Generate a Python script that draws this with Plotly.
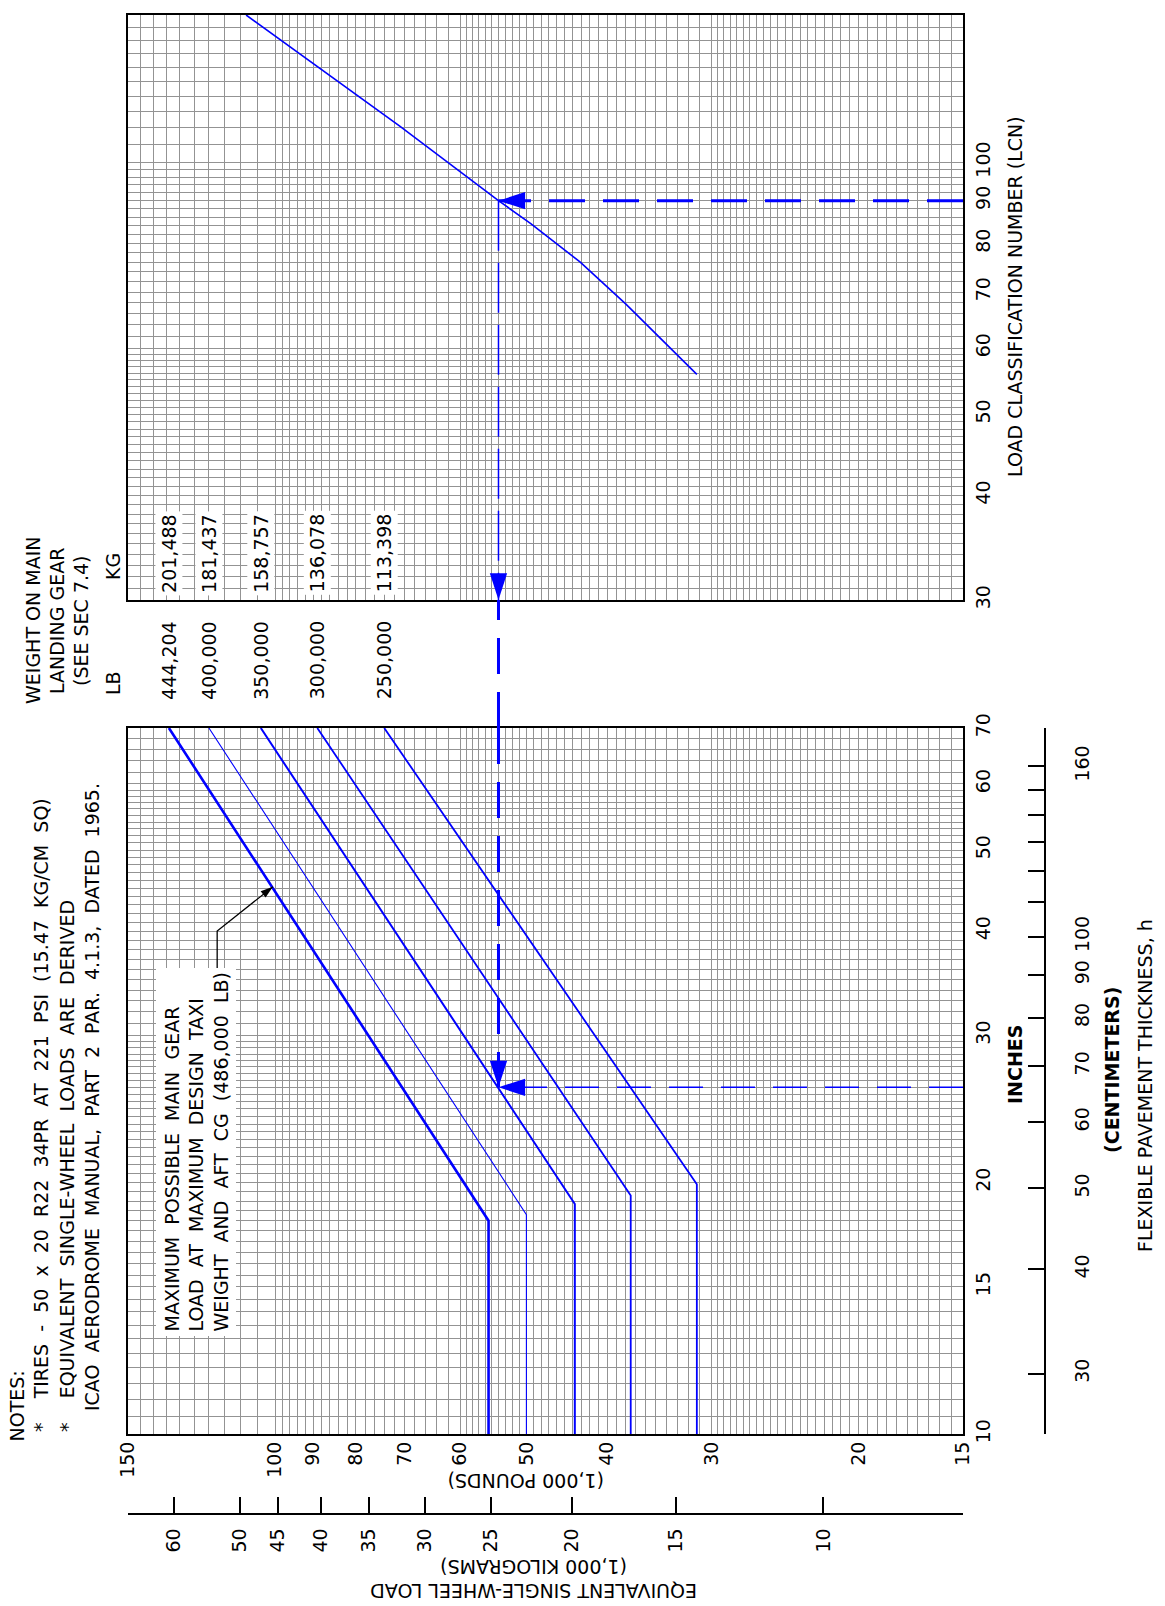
import numpy as np
import plotly.graph_objects as go

W, H = 1165, 1606

# ---------------- data ----------------
WEIGHT_LB = ["444,204", "400,000", "350,000", "300,000", "250,000"]
WEIGHT_KG = ["201,488", "181,437", "158,757", "136,078", "113,398"]
ESWL_LOW = [55.5, 50.0, 43.75, 37.5, 31.25]      # 1,000 lb, constant part
BREAK_T = [18.0, 18.3, 18.85, 19.3, 19.9]        # inches, end of constant part
ESWL_TOP = [134.0, 120.0, 104.0, 89.0, 74.0]     # 1,000 lb at 70 in
T_MIN, T_MAX = 10, 70
CURVE_W = [2.6, 1.1, 2.0, 1.8, 1.8]

LCN_ESWL = [108.3, 70.9, 54.0, 49.4, 43.1, 38.0, 31.25]
LCN_VAL = [150, 110.5, 90, 84.5, 76.0, 67.7, 55.8]

EX_ESWL = 54.0    # example read-off
EX_T = 26.0
EX_LCN = 90

LEADER_ESWL = [117.3, 117.3, 100.6]
LEADER_T = [36.1, 40.0, 45.2]

ESWL_LABELS = [15, 20, 30, 40, 50, 60, 70, 80, 90, 100, 150]
KG_TICKS = [10, 15, 20, 25, 30, 35, 40, 45, 50, 60]
T_LABELS = [10, 15, 20, 30, 40, 50, 60, 70]
CM_TICKS = [30, 40, 50, 60, 70, 80, 90, 100, 110, 120, 130, 140, 150, 160]
CM_TEXT = ["30", "40", "50", "60", "70", "80", "90", "100", "", "", "", "", "", "160"]
LCN_LABELS = [30, 40, 50, 60, 70, 80, 90, 100, 150]

ESWL_RANGE = (150, 15)
LCN_RANGE = (30, 150)
LB_PER_KG = 2.20462
CM_PER_IN = 2.54

# ---------------- layout geometry (pixels) ----------------
PL, PR = 128, 963
LOW_TOP, LOW_BOT = 728, 1434
UP_TOP, UP_BOT = 15, 600
KG_LINE_Y = 1514
CM_LINE_X = 1045

def fx(p):
    return p / W

def fy(p):
    return 1 - p / H

BLUE = "#0000ff"
GRID = "#939393"
FONT = "DejaVu Sans"
FS = 19


def grid(segments):
    vals = []
    for a, b, s in segments:
        v = a
        while v < b - 1e-9:
            vals.append(round(v, 4))
            v += s
    vals.append(segments[-1][1])
    return sorted(set(vals))


ESWL_GRID = grid([(15, 30, 0.5), (30, 60, 1), (60, 100, 2), (100, 150, 5)])
T_GRID = grid([(10, 30, 0.5), (30, 60, 1), (60, 70, 2)])
LCN_GRID = grid([(30, 60, 1), (60, 100, 2), (100, 150, 5)])


def fmt(v):
    return str(int(v)) if float(v).is_integer() else str(v)


def texts(gridvals, labels, show=True):
    ls = set(labels)
    return [fmt(v) if (show and v in ls) else "" for v in gridvals]


fig = go.Figure()

# lower panel: ESWL curves
for i in range(len(WEIGHT_LB)):
    fig.add_trace(go.Scatter(
        x=[ESWL_LOW[i], ESWL_LOW[i], ESWL_TOP[i]],
        y=[T_MIN, BREAK_T[i], T_MAX],
        mode="lines", line=dict(color=BLUE, width=CURVE_W[i]),
        xaxis="x", yaxis="y", hoverinfo="skip", showlegend=False))

# upper panel: LCN curve
fig.add_trace(go.Scatter(x=LCN_ESWL, y=LCN_VAL, mode="lines",
                         line=dict(color=BLUE, width=1.6),
                         xaxis="x2", yaxis="y2", hoverinfo="skip", showlegend=False))

# example dashed read-off lines (horizontal ones start at the right border)
fig.add_trace(go.Scatter(x=[ESWL_RANGE[1], EX_ESWL], y=[EX_LCN, EX_LCN], mode="lines",
                         line=dict(color=BLUE, width=3, dash="36px,18px"),
                         xaxis="x2", yaxis="y2", hoverinfo="skip", showlegend=False))
fig.add_trace(go.Scatter(x=[EX_ESWL, EX_ESWL], y=[EX_LCN, LCN_RANGE[0]], mode="lines",
                         line=dict(color=BLUE, width=1.5, dash="50px,12px"),
                         xaxis="x2", yaxis="y2", hoverinfo="skip", showlegend=False))
fig.add_trace(go.Scatter(x=[EX_ESWL, EX_ESWL], y=[T_MAX, EX_T], mode="lines",
                         line=dict(color=BLUE, width=3, dash="36px,18px"),
                         xaxis="x", yaxis="y", hoverinfo="skip", showlegend=False))
fig.add_trace(go.Scatter(x=[ESWL_RANGE[1], EX_ESWL], y=[EX_T, EX_T], mode="lines",
                         line=dict(color=BLUE, width=1.5, dash="34px,18px"),
                         xaxis="x", yaxis="y", hoverinfo="skip", showlegend=False))

# arrow heads
fig.add_trace(go.Scatter(x=[EX_ESWL, EX_ESWL], y=[EX_LCN, LCN_RANGE[0]], mode="markers",
                         marker=dict(symbol="arrow", size=28, angle=[-90, 180], color=BLUE,
                                     line=dict(width=0)),
                         cliponaxis=False, xaxis="x2", yaxis="y2",
                         hoverinfo="skip", showlegend=False))
fig.add_trace(go.Scatter(x=[EX_ESWL, EX_ESWL], y=[EX_T, EX_T], mode="markers",
                         marker=dict(symbol="arrow", size=28, angle=[180, -90], color=BLUE,
                                     line=dict(width=0)),
                         cliponaxis=False, xaxis="x", yaxis="y",
                         hoverinfo="skip", showlegend=False))

# leader line for the note box
fig.add_trace(go.Scatter(x=LEADER_ESWL, y=LEADER_T, mode="lines",
                         line=dict(color="black", width=1.3),
                         xaxis="x", yaxis="y", hoverinfo="skip", showlegend=False))
fig.add_trace(go.Scatter(x=[LEADER_ESWL[-1]], y=[LEADER_T[-1]], mode="markers",
                         marker=dict(symbol="arrow", size=13, angle=52, color="black",
                                     line=dict(width=0)),
                         xaxis="x", yaxis="y", hoverinfo="skip", showlegend=False))

# invisible traces to carry the secondary scales
fig.add_trace(go.Scatter(x=[KG_TICKS[0]], y=[T_MIN], mode="markers", marker=dict(opacity=0),
                         xaxis="x3", yaxis="y", hoverinfo="skip", showlegend=False))
fig.add_trace(go.Scatter(x=[ESWL_RANGE[1]], y=[CM_TICKS[0]], mode="markers", marker=dict(opacity=0),
                         xaxis="x", yaxis="y3", hoverinfo="skip", showlegend=False))

tickfont = dict(family=FONT, size=FS, color="black")
common = dict(type="log", showgrid=True, gridcolor=GRID, gridwidth=1.2, zeroline=False,
              showline=True, linecolor="black", linewidth=2, mirror=True,
              tickmode="array", ticks="", tickangle=-90, tickfont=tickfont,
              automargin=False, fixedrange=True)

xd = [fx(PL), fx(PR)]
lrange = [np.log10(ESWL_RANGE[0]), np.log10(ESWL_RANGE[1])]

fig.update_layout(
    width=W, height=H, margin=dict(l=0, r=0, t=0, b=0),
    paper_bgcolor="white", plot_bgcolor="white",
    font=dict(family=FONT, size=FS, color="black"),
    showlegend=False,
    xaxis=dict(**common, domain=xd, range=lrange, anchor="y", side="bottom",
               tickvals=ESWL_GRID, ticktext=texts(ESWL_GRID, ESWL_LABELS),
               ticklabelstandoff=-2),
    yaxis=dict(**common, domain=[fy(LOW_BOT), fy(LOW_TOP)],
               range=[np.log10(T_MIN), np.log10(T_MAX)], anchor="x", side="right",
               tickvals=T_GRID, ticktext=texts(T_GRID, T_LABELS), ticklabelstandoff=2),
    xaxis2=dict(**common, domain=xd, range=lrange, anchor="y2", side="bottom",
                tickvals=ESWL_GRID, ticktext=texts(ESWL_GRID, [], False),
                showticklabels=False),
    yaxis2=dict(**common, domain=[fy(UP_BOT), fy(UP_TOP)],
                range=[np.log10(LCN_RANGE[0]), np.log10(LCN_RANGE[1])], anchor="x2",
                side="right", tickvals=LCN_GRID, ticktext=texts(LCN_GRID, LCN_LABELS),
                ticklabelstandoff=2),
    xaxis3=dict(type="log", overlaying="x", anchor="free", position=fy(KG_LINE_Y),
                side="bottom",
                range=[np.log10(ESWL_RANGE[0] / LB_PER_KG), np.log10(ESWL_RANGE[1] / LB_PER_KG)],
                tickmode="array", tickvals=KG_TICKS, ticktext=[fmt(v) for v in KG_TICKS],
                ticks="inside", ticklen=16, tickwidth=1.5, tickcolor="black",
                tickangle=-90, tickfont=tickfont, ticklabelstandoff=6,
                showline=True, linecolor="black", linewidth=1.5, showgrid=False,
                zeroline=False, automargin=False, fixedrange=True),
    yaxis3=dict(type="log", overlaying="y", anchor="free", position=fx(CM_LINE_X),
                side="right",
                range=[np.log10(T_MIN * CM_PER_IN), np.log10(T_MAX * CM_PER_IN)],
                tickmode="array", tickvals=CM_TICKS, ticktext=CM_TEXT,
                ticks="inside", ticklen=16, tickwidth=1.5, tickcolor="black",
                tickangle=-90, tickfont=tickfont, ticklabelstandoff=20,
                showline=True, linecolor="black", linewidth=1.5, showgrid=False,
                zeroline=False, automargin=False, fixedrange=True),
)

# dashed link between the two panels
fig.add_shape(type="line", xref="x", yref="paper", x0=EX_ESWL, x1=EX_ESWL,
              y0=fy(LOW_TOP), y1=fy(UP_BOT),
              line=dict(color=BLUE, width=3, dash="36px,18px"))

S2 = " \u00a0"  # wide word gap


def wide(s):
    return s.replace(" ", S2)


ann = []


def txt(text, x, y, angle=-90, xa="center", ya="middle", size=FS, bold=False, **kw):
    t = "<b>" + text + "</b>" if bold else text
    d = dict(text=t, x=fx(x), y=fy(y), xref="paper", yref="paper", showarrow=False,
             textangle=angle, xanchor=xa, yanchor=ya,
             font=dict(family=FONT, size=size, color="black"))
    d.update(kw)
    ann.append(d)


# notes
txt("NOTES:", 16, 1444, ya="bottom")
txt(wide("*  TIRES - 50 x 20 R22 34PR AT 221 PSI (15.47 KG/CM SQ)"), 41, 1434, ya="bottom")
txt(wide("*  EQUIVALENT SINGLE-WHEEL LOADS ARE DERIVED"), 67, 1434, ya="bottom")
txt(wide("ICAO AERODROME MANUAL, PART 2 PAR. 4.1.3, DATED 1965."), 92, 1413, ya="bottom")

# table header
txt("WEIGHT ON MAIN", 33, 621)
txt("LANDING GEAR", 57, 621)
txt("(SEE SEC 7.4)", 81, 621)
txt("LB", 113, 683)
txt("KG", 113, 567)

# table values aligned with the curve ends
for i in range(len(WEIGHT_LB)):
    ann.append(dict(text=WEIGHT_LB[i], x=np.log10(ESWL_TOP[i]), y=fy(660), xref="x", yref="paper",
                    showarrow=False, textangle=-90, xanchor="center", yanchor="middle",
                    font=dict(family=FONT, size=FS, color="black")))
    ann.append(dict(text=WEIGHT_KG[i], x=np.log10(ESWL_TOP[i]), y=fy(553), xref="x", yref="paper",
                    showarrow=False, textangle=-90, xanchor="center", yanchor="middle",
                    bgcolor="white", borderpad=2,
                    font=dict(family=FONT, size=FS, color="black")))

# note box
txt("<br>".join([wide("MAXIMUM POSSIBLE MAIN GEAR"), wide("LOAD AT MAXIMUM DESIGN TAXI"),
                 wide("WEIGHT AND AFT CG (486,000 LB)")]),
    196, 1337, ya="bottom", align="left", bgcolor="white", borderpad=4)

# axis titles
txt("(1,000 POUNDS)", 526, 1481, angle=180)
txt("(1,000 KILOGRAMS)", 534, 1567, angle=180)
txt("EQUIVALENT SINGLE-WHEEL LOAD", 534, 1591, angle=180)
txt("INCHES", 1015, 1065, bold=True)
txt("(CENTIMETERS)", 1112, 1070, bold=True)
txt("FLEXIBLE PAVEMENT THICKNESS, h", 1145, 1086)
txt("LOAD CLASSIFICATION NUMBER (LCN)", 1015, 297)

fig.update_layout(annotations=ann)

fig.write_html("out.html", config={"displayModeBar": False},
               post_script="document.body.style.margin='0px';")
